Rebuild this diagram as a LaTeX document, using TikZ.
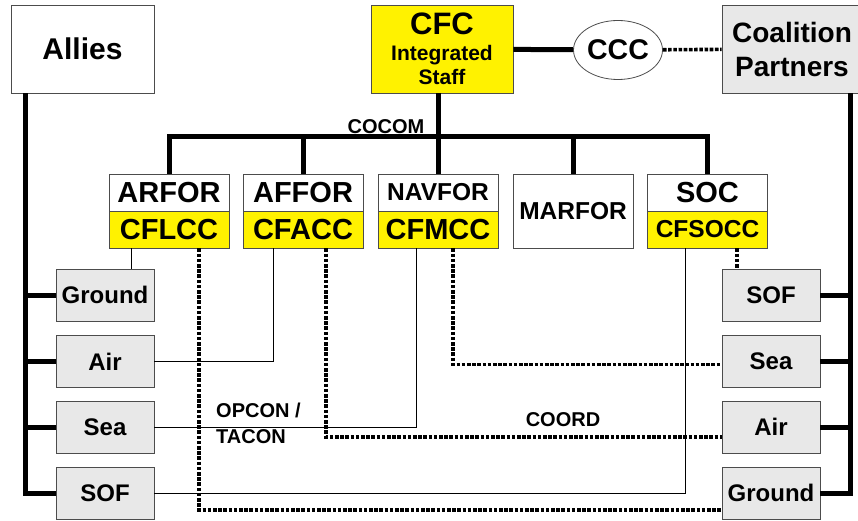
\documentclass[tikz,border=0pt]{standalone}
\usepackage{fontspec}
\setmainfont{Liberation Sans}
\usetikzlibrary{shapes.geometric}
\tikzset{
  box/.style={draw=black!70, line width=0.8pt, inner sep=0pt, align=center, font=\bfseries},
  cmd/.style={box, minimum width=120pt, minimum height=37pt},
  comp/.style={box, fill=black!9, minimum width=98pt, minimum height=52pt, font=\bfseries\fontsize{24}{26}\selectfont},
  bigtxt/.style={font=\bfseries\fontsize{29}{30}\selectfont},
  midtxt/.style={font=\bfseries\fontsize{24.5}{26}\selectfont},
  heavy/.style={line width=5pt},
  lite/.style={line width=1pt},
  dotline/.style={line width=3.6pt, dash pattern=on 3.6pt off 1.6pt},
  lbl/.style={font=\bfseries\fontsize{20}{26}\selectfont, inner sep=0pt}
}
\begin{document}
\begin{tikzpicture}[x=1pt,y=-1pt]
\useasboundingbox (0,0) rectangle (858,521);
% top row
\node[box, minimum width=143pt, minimum height=88pt, font=\bfseries\fontsize{30}{32}\selectfont] (allies) at (82.5,49) {Allies};
\node[box, fill=yellow, minimum width=142pt, minimum height=88pt, font=\bfseries\fontsize{21}{24}\selectfont] (cfc) at (442,49) {{\fontsize{31}{31}\selectfont CFC}\\[2pt]Integrated\\Staff};
\node[ellipse, draw=black!70, line width=0.8pt, minimum width=89pt, minimum height=59pt, inner sep=0pt, font=\bfseries\fontsize{28.5}{30}\selectfont] (ccc) at (618,50) {CCC};
\node[box, fill=black!9, minimum width=140pt, minimum height=88pt, font=\bfseries\fontsize{28}{34}\selectfont] (coal) at (792,49) {Coalition\\Partners};
% components
\node[cmd, bigtxt] (arfor) at (169,192.5) {ARFOR};\node[cmd, bigtxt, fill=yellow] (cflcc) at (169,229.5) {CFLCC};
\node[cmd, bigtxt] (affor) at (303,192.5) {AFFOR};\node[cmd, bigtxt, fill=yellow] (cfacc) at (303,229.5) {CFACC};
\node[cmd, midtxt] (navfor) at (438,192.5) {NAVFOR};\node[cmd, bigtxt, fill=yellow] (cfmcc) at (438,229.5) {CFMCC};
\node[cmd, midtxt, minimum height=74pt] (marfor) at (573,211) {MARFOR};
\node[cmd, bigtxt] (soc) at (707.5,192.5) {SOC};\node[cmd, midtxt, fill=yellow] (cfsocc) at (707.5,229.5) {CFSOCC};
% allied and coalition forces
\node[comp] (lground) at (105,295) {Ground};\node[comp] (lair) at (105,361.5) {Air};
\node[comp] (lsea) at (105,427) {Sea};\node[comp] (lsof) at (105,493) {SOF};
\node[comp] (rsof) at (771,295) {SOF};\node[comp] (rsea) at (771,361.5) {Sea};
\node[comp] (rair) at (771,427) {Air};\node[comp] (rground) at (771,493) {Ground};
% command lines
\draw[heavy] (cfc) -- (ccc);\draw[dotline] (ccc) -- (coal);
\coordinate (bar) at (438,137);
\draw[heavy] (navfor.north |- cfc.south) -- (navfor.north);\draw[heavy] (arfor.north) |- (bar) -| (soc.north);
\draw[heavy] (affor.north) -- (affor.north |- bar);\draw[heavy] (marfor.north) -- (marfor.north |- bar);
\coordinate (lsp) at ([xshift=14.5pt]allies.south west);\coordinate (rsp) at ([xshift=-12pt]coal.south east);
\draw[heavy] (lsp) |- (lsof.west);\draw[heavy] (rsp) |- (rground.east);
\draw[heavy] (lground.west) -- (lground.west -| lsp);\draw[heavy] (lair.west) -- (lair.west -| lsp);
\draw[heavy] (lsea.west) -- (lsea.west -| lsp);
\draw[heavy] (rsof.east) -- (rsof.east -| rsp);\draw[heavy] (rsea.east) -- (rsea.east -| rsp);
\draw[heavy] (rair.east) -- (rair.east -| rsp);
% OPCON / TACON
\draw[lite] ([xshift=-38pt]cflcc.south) -- ([xshift=-38pt]cflcc.south |- lground.north);
\draw[lite] ([xshift=-30pt]cfacc.south) |- (lair.east);
\draw[lite] ([xshift=-22pt]cfmcc.south) |- (lsea.east);
\draw[lite] ([xshift=-22.5pt]cfsocc.south) |- (lsof.east);
% COORD
\draw[dotline] ([xshift=30pt]cflcc.south) |- ([yshift=-17pt]rground.west);
\draw[dotline] ([xshift=23pt]cfacc.south) |- ([yshift=-10pt]rair.west);
\draw[dotline] ([xshift=15pt]cfmcc.south) |- ([yshift=-3pt]rsea.west);
\draw[dotline] ([xshift=29.5pt]cfsocc.south) -- ([xshift=29.5pt]cfsocc.south |- rsof.north);
\node[lbl] (cocom) at (386,127) {COCOM};
\node[lbl, align=left, anchor=west] (opcon) at (216,423) {OPCON /\\TACON};
\node[lbl] (coordlbl) at (563,420) {COORD};
\end{tikzpicture}
\end{document}
